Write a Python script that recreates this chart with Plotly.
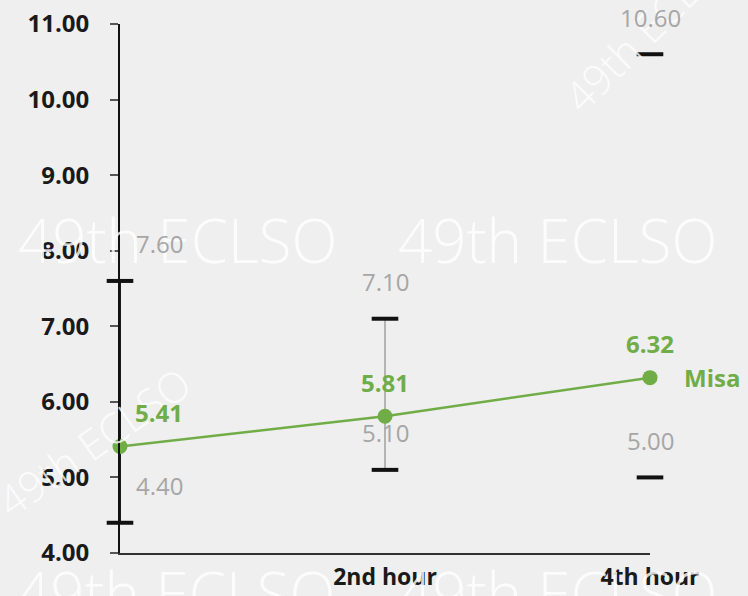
import plotly.graph_objects as go

# Data
categories = ["", "2nd hour", "4th hour"]
means = [5.41, 5.81, 6.32]
lows = [4.40, 5.10, 5.00]
highs = [7.60, 7.10, 10.60]
series_name = "Misa"
stem_colors = ["#1a1a1a", "#b4b4b4", "rgba(0,0,0,0)"]

GREEN = "#70ad47"
GRAY_TXT = "#a6a6a6"
BG = "#efefef"
FONT = "Open Sans"

xs = list(range(len(categories)))
fig = go.Figure()

# range stems
for i in xs:
    fig.add_trace(go.Scatter(
        x=[i, i], y=[lows[i], highs[i]], mode="lines",
        line=dict(color=stem_colors[i], width=2),
        hoverinfo="skip", showlegend=False, cliponaxis=False))

# range caps
fig.add_trace(go.Scatter(
    x=xs + xs, y=lows + highs, mode="markers",
    marker=dict(symbol="line-ew", size=19, line=dict(color="#111111", width=4)),
    hoverinfo="skip", showlegend=False, cliponaxis=False))

# mean line
fig.add_trace(go.Scatter(
    x=xs, y=means, mode="lines+markers", name=series_name,
    line=dict(color=GREEN, width=2.5),
    marker=dict(color=GREEN, size=15),
    showlegend=False, cliponaxis=False))

annotations = []
# watermark (drawn first so data labels sit on top)
wm_big = dict(family=FONT, size=60, weight=300, color="rgba(255,255,255,0.8)")
wm_small = dict(family=FONT, size=42, weight=300, color="rgba(255,255,255,0.8)")
for (px, py, ang, f) in [(0.109, 0.592, 0, wm_big), (0.826, 0.592, 0, wm_big),
                         (0.105, -0.075, 0, wm_big), (0.826, -0.075, 0, wm_big),
                         (-0.05, 0.21, -35, wm_small), (1.0, 1.0, -45, wm_small)]:
    annotations.append(dict(
        x=px, y=py, xref="paper", yref="paper", text="49th ECLSO",
        xanchor="center", yanchor="middle",
        showarrow=False, textangle=ang, font=f))

# value labels for range ends
for i in xs:
    dx = 39 if i == 0 else 0
    for v in (lows[i], highs[i]):
        annotations.append(dict(
            x=i, y=v, xref="x", yref="y", text=f"{v:.2f}", showarrow=False,
            xshift=dx, yshift=37, font=dict(family=FONT, size=24, color=GRAY_TXT)))
# value labels for means
for i in xs:
    dx = 39 if i == 0 else 0
    annotations.append(dict(
        x=i, y=means[i], xref="x", yref="y", text=f"<b>{means[i]:.2f}</b>",
        showarrow=False, xshift=dx, yshift=34,
        font=dict(family=FONT, size=24, color=GREEN)))
# series name at line end
annotations.append(dict(
    x=xs[-1], y=means[-1], xref="x", yref="y", text=f"<b>{series_name}</b>",
    showarrow=False, xanchor="left", xshift=32,
    font=dict(family=FONT, size=24, color=GREEN)))

fig.update_layout(
    width=748, height=596,
    margin=dict(l=120, r=98, t=24, b=43),
    paper_bgcolor=BG, plot_bgcolor=BG,
    annotations=annotations,
    xaxis=dict(
        range=[0, 2], tickvals=xs, ticktext=[f"<b>{c}</b>" for c in categories],
        showgrid=False, zeroline=False, showline=True, linecolor="#333333",
        linewidth=2, ticks="", ticklabelstandoff=2, automargin=False,
        tickfont=dict(family=FONT, size=23, color="#1a1a1a")),
    yaxis=dict(
        range=[4, 11], dtick=1, tickformat=".2f", automargin=False,
        showgrid=False, zeroline=False, showline=True, linecolor="#111111",
        linewidth=2, ticks="outside", ticklen=8, tickwidth=2, tickcolor="#555555",
        ticklabelstandoff=16,
        tickfont=dict(family=FONT, size=24, color="#1a1a1a"), tickprefix="<b>",
        ticksuffix="</b>"),
)

fig.write_html("out.html")
